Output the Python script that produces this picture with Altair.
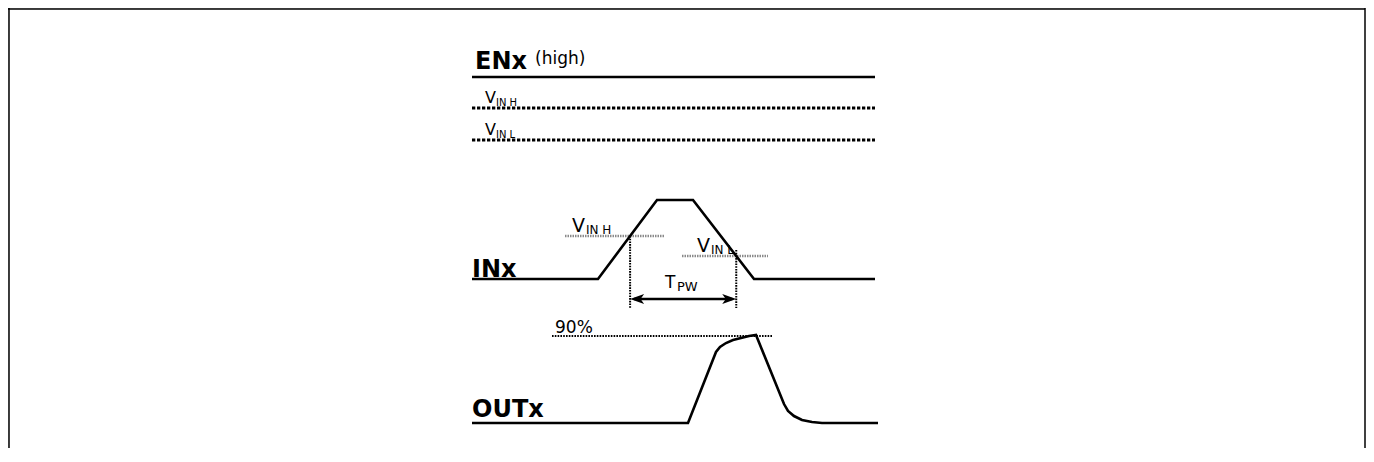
import altair as alt
import pandas as pd

# ---------------- data (time in arbitrary units, levels normalised 0..1) ----------------
EN_T = [0, 403]
EN_LVL = [1, 1]
IN_T = [0, 126, 185, 221, 282, 403]
IN_LVL = [0, 0, 1, 1, 0, 0]
OUT_T = [0, 216, 244, 248, 254, 261, 269, 277, 284, 312, 316, 322, 330, 340, 350, 406]
OUT_LVL = [0, 0, 0.734, 0.786, 0.827, 0.858, 0.879, 0.900, 0.910,
           0.196, 0.124, 0.072, 0.031, 0.010, 0, 0]

EN_VINH, EN_VINL = 0.627, 0.241
IN_VINH, IN_VINL = 0.544, 0.291
OUT_90 = 0.9

# ---------------- layout ----------------
TRACKS = {"EN": (160, 83), "IN": (279, 79), "OUT": (423, 96.7)}  # baseline, amplitude
W, H = 1358, 440
XDOM = [-464, 894]
YDOM = [8, 448]
FONT = "DejaVu Sans"


def Y(track, lvl):
    base, amp = TRACKS[track]
    return base - lvl * amp


xs = alt.Scale(domain=XDOM, nice=False, zero=False)
ys = alt.Scale(domain=YDOM, nice=False, zero=False, reverse=True)

# crossings of the input thresholds on the INx edges
t_h = IN_T[1] + IN_VINH * (IN_T[2] - IN_T[1])
t_l = IN_T[3] + (1 - IN_VINL) * (IN_T[4] - IN_T[3])

# ---------------- solid traces ----------------
rows = []
for name, tt, ll, tr in [("EN", EN_T, EN_LVL, "EN"), ("IN", IN_T, IN_LVL, "IN"),
                         ("OUT", OUT_T, OUT_LVL, "OUT")]:
    for i, (t, l) in enumerate(zip(tt, ll)):
        rows.append({"sig": name, "i": i, "t": t, "y": Y(tr, l)})
traces = pd.DataFrame(rows)

solid = alt.Chart(traces).mark_line(color="black", strokeWidth=2.6, interpolate="linear").encode(
    x=alt.X("t:Q", scale=xs, axis=None),
    y=alt.Y("y:Q", scale=ys, axis=None),
    detail="sig:N",
    order="i:Q",
)


def hrules(df, color, width, dash):
    return alt.Chart(df).mark_rule(color=color, strokeWidth=width, strokeDash=dash).encode(
        x=alt.X("t0:Q", scale=xs, axis=None),
        x2="t1:Q",
        y=alt.Y("y:Q", scale=ys, axis=None),
    )


def vrules(df, color, width, dash):
    return alt.Chart(df).mark_rule(color=color, strokeWidth=width, strokeDash=dash).encode(
        x=alt.X("t:Q", scale=xs, axis=None),
        y=alt.Y("y0:Q", scale=ys, axis=None),
        y2="y1:Q",
    )


en_thr = hrules(pd.DataFrame({"t0": [0, 0], "t1": [403, 403],
                              "y": [Y("EN", EN_VINH), Y("EN", EN_VINL)]}),
                "black", 3, [3.3, 1.7])
in_thr = hrules(pd.DataFrame({"t0": [93, 210], "t1": [193, 296],
                              "y": [Y("IN", IN_VINH), Y("IN", IN_VINL)]}),
                "#8a8a8a", 2.5, [1.5, 1])
out_thr = hrules(pd.DataFrame({"t0": [80], "t1": [301], "y": [Y("OUT", OUT_90)]}),
                 "black", 2, [1.6, 1.2])
markers = vrules(pd.DataFrame({"t": [t_h, t_l],
                               "y0": [Y("IN", IN_VINH), Y("IN", 0.367)],
                               "y1": [Y("IN", -0.367), Y("IN", -0.367)]}),
                 "black", 2, [1.6, 1.1])

arrow_y = Y("IN", -0.253)
arrow_line = hrules(pd.DataFrame({"t0": [t_h + 4], "t1": [t_l - 4], "y": [arrow_y]}),
                    "black", 2.6, [1, 0])
heads = pd.DataFrame({
    "t": [t_h, t_l],
    "y": [arrow_y, arrow_y],
    "shape": ["M0,0 L2,-0.7 L1.5,0 L2,0.7 Z", "M0,0 L-2,-0.7 L-1.5,0 L-2,0.7 Z"],
})
arrow_heads = alt.Chart(heads).mark_point(filled=True, color="black", size=196, opacity=1,
                                          strokeWidth=0).encode(
    x=alt.X("t:Q", scale=xs, axis=None),
    y=alt.Y("y:Q", scale=ys, axis=None),
    shape=alt.Shape("shape:N", scale=None),
)

# ---------------- labels ----------------
def texts(items, size, weight="normal"):
    df = pd.DataFrame(items, columns=["txt", "t", "track", "lvl"])
    df["y"] = [Y(tr, l) for tr, l in zip(df["track"], df["lvl"])]
    return alt.Chart(df).mark_text(align="left", baseline="alphabetic", font=FONT,
                                   fontSize=size, fontWeight=weight, color="black").encode(
        x=alt.X("t:Q", scale=xs, axis=None),
        y=alt.Y("y:Q", scale=ys, axis=None),
        text="txt:N",
    )


big = texts([["ENx", 3, "EN", 1.096], ["INx", 0, "IN", 0.025], ["OUTx", 0, "OUT", 0.062]],
            24, "bold")
mid = texts([["(high)", 63, "EN", 1.157], ["90%", 83, "OUT", 0.931]], 17)
tpw = texts([["T", 193, "IN", -0.114]], 17)
v_en = texts([["V", 13, "EN", 0.687], ["V", 13, "EN", 0.301]], 16)
v_in = texts([["V", 100, "IN", 0.595], ["V", 225, "IN", 0.342]], 19)
subs_en = texts([["IN H", 24, "EN", 0.651], ["IN L", 24, "EN", 0.265]], 10)
subs_in = texts([["IN H", 114, "IN", 0.570], ["IN L", 239, "IN", 0.316]], 12)
subs_pw = texts([["PW", 205, "IN", -0.152]], 13)

# ---------------- frame ----------------
frame_df = pd.DataFrame({"k": [0]})
top = alt.Chart(frame_df).mark_rule(color="black", strokeWidth=1.5).encode(
    x=alt.value(0), x2=alt.value(W - 1), y=alt.value(1))
left = alt.Chart(frame_df).mark_rule(color="black", strokeWidth=1.5).encode(
    x=alt.value(1), y=alt.value(0), y2=alt.value(H))
right = alt.Chart(frame_df).mark_rule(color="black", strokeWidth=1.5).encode(
    x=alt.value(W - 1), y=alt.value(0), y2=alt.value(H))

chart = alt.layer(
    top, left, right,
    en_thr, in_thr, out_thr, markers, arrow_line, arrow_heads,
    solid, big, mid, tpw, v_en, v_in, subs_en, subs_in, subs_pw,
).properties(
    width=W, height=H, autosize=alt.AutoSizeParams(type="none"), padding=0,
).configure_view(stroke=None).configure(background="white")

chart.save("out.html", embed_options={"renderer": "svg", "actions": False})
